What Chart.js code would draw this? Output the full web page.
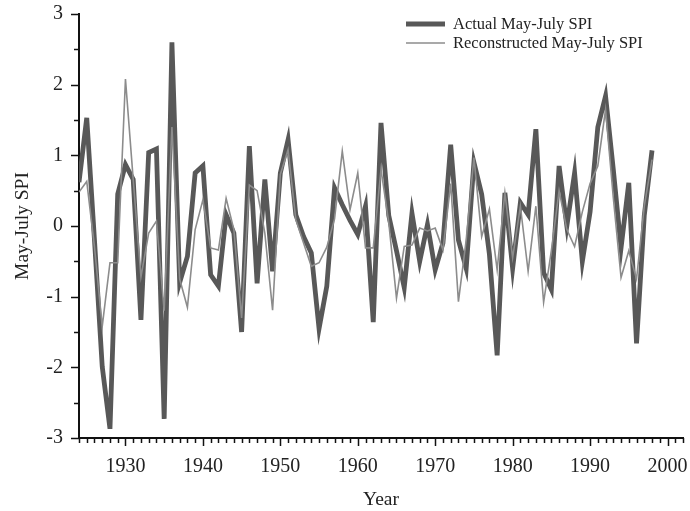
<!DOCTYPE html>
<html><head><meta charset="utf-8">
<script src="https://cdn.jsdelivr.net/npm/chart.js@4.4.0/dist/chart.umd.min.js"></script>
<style>html,body{margin:0;padding:0;background:#fff}#wrap{width:690px;height:511px}</style>
</head><body><div id="wrap"><canvas id="c" width="690" height="511"></canvas></div>
<script>
const years = [];
for (let y = 1924; y <= 1998; y++) years.push(y);
const actualSPI = [0.62,1.53,-0.2,-1.99,-2.87,0.45,0.87,0.66,-1.33,1.04,1.09,-2.73,2.6,-0.8,-0.43,0.75,0.85,-0.69,-0.85,0.16,-0.1,-1.5,1.13,-0.81,0.66,-0.64,0.75,1.22,0.16,-0.15,-0.38,-1.45,-0.85,0.54,0.3,0.08,-0.12,0.28,-1.36,1.46,0.15,-0.35,-0.87,0.18,-0.5,0.02,-0.62,-0.24,1.15,-0.2,-0.6,0.9,0.45,-0.4,-1.83,0.47,-0.6,0.33,0.16,1.37,-0.66,-0.9,0.85,0.0,0.75,-0.5,0.2,1.4,1.84,0.8,-0.31,0.61,-1.66,0.15,1.07];
const reconSPI = [0.48,0.63,-0.3,-1.42,-0.52,-0.52,2.08,0.66,-0.72,-0.1,0.07,-1.2,1.4,-0.75,-1.15,-0.05,0.37,-0.31,-0.34,0.39,-0.05,-1.3,0.58,0.5,-0.1,-1.19,0.73,1.08,0.09,-0.24,-0.57,-0.52,-0.3,0.1,1.06,0.23,0.75,-0.31,-0.31,0.8,0.05,-1.02,-0.29,-0.27,-0.03,-0.07,-0.03,-0.34,0.6,-1.07,-0.2,0.97,-0.15,0.24,-0.62,0.47,-0.45,0.28,-0.64,0.28,-1.08,-0.35,0.5,-0.05,-0.29,0.2,0.6,0.85,1.65,0.4,-0.73,-0.35,-0.75,0.28,0.94];
const xTickLabels = [1930,1940,1950,1960,1970,1980,1990,2000];
const yTickLabels = [-3,-2,-1,0,1,2,3];
const seriesNames = ['Actual May-July SPI','Reconstructed May-July SPI'];

const FONT = "'Liberation Serif','Times New Roman',serif";
const TXT = '#222';

const ticksPlugin = {
  id: 'ticksPlugin',
  afterDraw(chart) {
    const ctx = chart.ctx, x = chart.scales.x, y = chart.scales.y;
    const bottom = chart.chartArea.bottom, left = chart.chartArea.left;
    ctx.save();
    ctx.strokeStyle = '#111';
    ctx.lineWidth = 1.5;
    for (let yr = 1924; yr <= 2002; yr++) {
      const px = Math.round(x.getPixelForValue(yr)) + 0.5;
      const len = (yr % 10 === 0) ? 8 : 5;
      ctx.beginPath(); ctx.moveTo(px, bottom); ctx.lineTo(px, bottom + len); ctx.stroke();
    }
    for (let v = -3; v <= 3.001; v += 0.5) {
      const py = Math.round(y.getPixelForValue(v)) + 0.5;
      const len = (Math.abs(v % 1) < 0.01) ? 8 : 5;
      ctx.beginPath(); ctx.moveTo(left, py); ctx.lineTo(left - len, py); ctx.stroke();
    }
    // legend
    const ds = chart.data.datasets;
    const lx1 = 406, lx2 = 445, tx = 453;
    const rows = [24, 43];
    ctx.font = '16.5px ' + FONT;
    ctx.textBaseline = 'middle';
    ctx.textAlign = 'left';
    ds.forEach((d, i) => {
      ctx.strokeStyle = d.borderColor;
      ctx.lineWidth = d.borderWidth;
      ctx.beginPath(); ctx.moveTo(lx1, rows[i]); ctx.lineTo(lx2, rows[i]); ctx.stroke();
      ctx.fillStyle = TXT;
      ctx.fillText(d.label, tx, rows[i] + 1);
    });
    ctx.restore();
  }
};

new Chart(document.getElementById('c'), {
  type: 'line',
  data: {
    labels: years,
    datasets: [
      { label: seriesNames[0], data: years.map((yr, i) => ({x: yr, y: actualSPI[i]})),
        borderColor: 'rgb(88,88,88)', borderWidth: 4.8, pointRadius: 0, tension: 0, order: 2, fill: false },
      { label: seriesNames[1], data: years.map((yr, i) => ({x: yr, y: reconSPI[i]})),
        borderColor: 'rgb(140,140,140)', borderWidth: 1.6, pointRadius: 0, tension: 0, order: 1, fill: false }
    ]
  },
  options: {
    responsive: false,
    animation: false,
    devicePixelRatio: 1,
    layout: { padding: { top: 14, right: 7, bottom: 0, left: 0 } },
    plugins: { legend: { display: false }, tooltip: { enabled: false } },
    scales: {
      x: {
        type: 'linear', min: 1924, max: 2002,
        afterBuildTicks(s) { s.ticks = xTickLabels.map(v => ({value: v})); },
        afterFit(s) { s.height = 73; s.paddingLeft = 0; s.paddingRight = 0; },
        grid: { display: false },
        border: { display: true, color: '#111', width: 2 },
        ticks: { font: { family: FONT, size: 20 }, color: TXT, padding: 9, maxRotation: 0, autoSkip: false,
                 callback: v => String(v) },
        title: { display: true, text: 'Year', font: { family: FONT, size: 19.5, lineHeight: 1 }, color: TXT, padding: { top: 0, bottom: 1 } }
      },
      y: {
        min: -3, max: 3,
        afterBuildTicks(s) { s.ticks = yTickLabels.map(v => ({value: v})); },
        afterFit(s) { s.width = 79; s.paddingTop = 0; s.paddingBottom = 0; },
        grid: { display: false },
        border: { display: true, color: '#111', width: 2 },
        ticks: { font: { family: FONT, size: 20 }, color: TXT, padding: 8, callback: v => String(v) },
        title: { display: true, text: 'May-July SPI', font: { family: FONT, size: 19.5 }, color: TXT, padding: { top: 11, bottom: 0 } }
      }
    }
  },
  plugins: [ticksPlugin]
});
</script></body></html>
